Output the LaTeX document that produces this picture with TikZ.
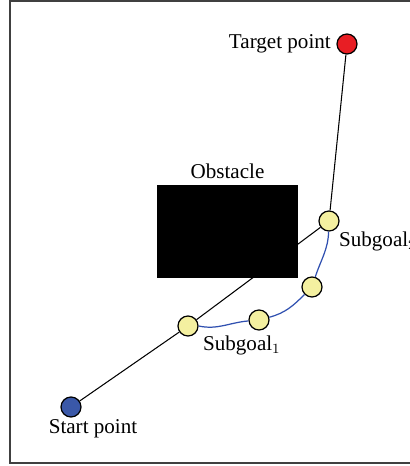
\documentclass[tikz,border=0pt]{standalone}
\usepackage{fontspec}
\setmainfont{Liberation Serif}
\usetikzlibrary{positioning}

\definecolor{goalyellow}{RGB}{244,240,160}
\definecolor{targetred}{RGB}{232,30,36}
\definecolor{startblue}{RGB}{58,88,168}
\definecolor{pathblue}{RGB}{48,80,176}

\tikzset{
  pt/.style={circle, draw=black, line width=0.7pt, minimum size=0.4cm, inner sep=0pt},
  subgoal/.style={pt, fill=goalyellow},
  lbl/.style={inner sep=1pt, font=\fontsize{12}{14}\selectfont},
  route/.style={line width=0.6pt, black},
  detour/.style={line width=0.7pt, pathblue}
}

\begin{document}
\begin{tikzpicture}[x=0.02cm, y=-0.02cm]
\useasboundingbox (0,0) rectangle (409,466);
% frame
\draw[line width=1pt, black!75] (10,1) rectangle (430,463);
% points
\node[pt, fill=targetred] (target) at (347,44) {};
\node[pt, fill=startblue] (start) at (71,407) {};
\node[subgoal] (sg1) at (188,326) {};
\node[subgoal] (mid1) at (259,320) {};
\node[subgoal] (mid2) at (312,287) {};
\node[subgoal] (sg2) at (329,221) {};
% straight route
\draw[route] (start) -- (sg1);
\draw[route] (sg1) -- (sg2);
\draw[route] (sg2) -- (target);
% detour round the obstacle
\draw[detour] (sg1.east) to[out=-12, in=185] (mid1);
\draw[detour] (mid1) to[out=15, in=225] (mid2);
\draw[detour] (mid2) to[out=72, in=-92] (sg2);
% obstacle
\node[fill=black, minimum width=2.82cm, minimum height=1.86cm, inner sep=0pt] (obs) at (227.5,231.5) {};
\node[lbl, above=2pt of obs] (obslbl) {Obstacle};
% labels
\node[lbl, left=2pt of target] (targetlbl) {Target point};
\node[lbl] (startlbl) at (93,429) {Start point};
\node[lbl, anchor=base west] (sg1lbl) at (201,350) {Subgoal$_1$};
\node[lbl, anchor=base west] (sg2lbl) at (337,246) {Subgoal$_2$};
\end{tikzpicture}
\end{document}
